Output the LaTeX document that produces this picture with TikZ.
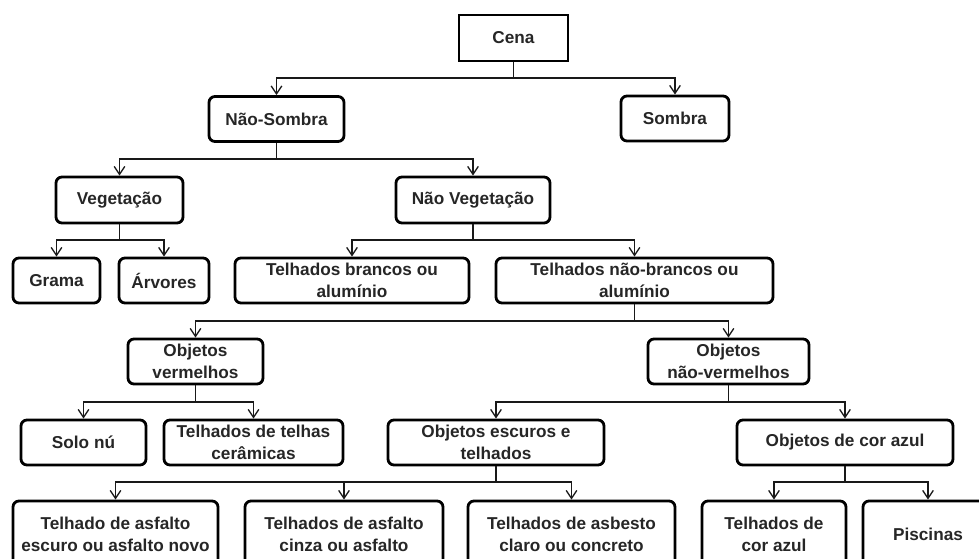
\documentclass[tikz,border=0pt]{standalone}
\usepackage{fontspec}
\setmainfont{Liberation Sans}
\usetikzlibrary{arrows.meta}
\begin{document}
\begin{tikzpicture}[x=0.75pt,y=-0.75pt,
  box/.style={draw=black, line width=2.1pt, rounded corners=4.5pt, align=center, inner sep=0pt,
    font=\fontsize{12.9}{16.5}\selectfont\bfseries, text=black!85, minimum height=33.75pt},
  conn/.style={line width=1.2pt, draw=black!90},
  arr/.style={conn, -{Straight Barb[length=6pt,width=8pt,line width=1pt]}}
]
\useasboundingbox (0,0) rectangle (979,558);
\clip (0,0) rectangle (979,558);
\fill[white] (0,0) rectangle (979,558);

% level 0
\node[box, rounded corners=0pt, minimum width=81.75pt, minimum height=34.5pt] (cena) at (513.5,38) {Cena};
% level 1
\node[box, minimum width=101.25pt] (nsombra) at (276.5,119) {Não-Sombra};
\node[box, minimum width=81pt] (sombra) at (675,118.5) {Sombra};
% level 2
\node[box, minimum width=95.25pt, minimum height=34.5pt] (veg) at (119.5,200) {Vegetação};
\node[box, minimum width=115.5pt, minimum height=34.5pt] (nveg) at (473,200) {Não Vegetação};
% level 3
\node[box, minimum width=65.25pt] (grama) at (56.5,280.5) {Grama};
\node[box, minimum width=67.5pt] (arv) at (164,280.5) {Árvores};
\node[box, minimum width=175.5pt] (tbranco) at (352,280.5) {Telhados brancos ou\\alumínio};
\node[box, minimum width=207.75pt] (tnbranco) at (634.5,280.5) {Telhados não-brancos ou\\alumínio};
% level 4
\node[box, minimum width=101.25pt] (overm) at (195.5,361.5) {Objetos\\vermelhos};
\node[box, minimum width=120.75pt] (onverm) at (728.5,361.5) {Objetos\\não-vermelhos};
% level 5
\node[box, minimum width=93.75pt] (solo) at (83.5,442.5) {Solo nú};
\node[box, minimum width=134.25pt] (tcer) at (253.5,442.5) {Telhados de telhas\\cerâmicas};
\node[box, minimum width=162pt] (oesc) at (496,442.5) {Objetos escuros e\\telhados};
\node[box, minimum width=162pt] (oazul) at (845,442.5) {Objetos de cor azul};
% level 6
\node[box, minimum width=153.75pt, minimum height=49.5pt] (b1) at (115.5,534) {Telhado de asfalto\\escuro ou asfalto novo};
\node[box, minimum width=148.5pt, minimum height=49.5pt] (b2) at (344,534) {Telhados de asfalto\\cinza ou asfalto};
\node[box, minimum width=155.25pt, minimum height=49.5pt] (b3) at (571.5,534) {Telhados de asbesto\\claro ou concreto};
\node[box, minimum width=108pt, minimum height=49.5pt] (b4) at (774,534) {Telhados de\\cor azul};
\node[box, minimum width=97.5pt, minimum height=49.5pt] (b5) at (928,534) {Piscinas};

% junction coordinates
\coordinate (j0) at (513.5,78);
\coordinate (j1) at (276.5,159);
\coordinate (j2a) at (119.5,240);
\coordinate (j2b) at (473,240);
\coordinate (j3) at (634.5,321);
\coordinate (j4a) at (195.5,402);
\coordinate (j4b) at (728.5,402);
\coordinate (j5a) at (496,482);
\coordinate (j5b) at (845,482);

% connectors
\draw[conn] (cena.south) -- (j0);
\draw[arr] (j0) -| (nsombra.north);
\draw[arr] (j0) -| (sombra.north);

\draw[conn] (nsombra.south) -- (j1);
\draw[arr] (j1) -| (veg.north);
\draw[arr] (j1) -| (nveg.north);

\draw[conn] (veg.south) -- (j2a);
\draw[arr] (j2a) -| (grama.north);
\draw[arr] (j2a) -| (arv.north);

\draw[conn] (nveg.south) -- (j2b);
\draw[arr] (j2b) -| (tbranco.north);
\draw[arr] (j2b) -| (tnbranco.north);

\draw[conn] (tnbranco.south) -- (j3);
\draw[arr] (j3) -| (overm.north);
\draw[arr] (j3) -| (onverm.north);

\draw[conn] (overm.south) -- (j4a);
\draw[arr] (j4a) -| (solo.north);
\draw[arr] (j4a) -| (tcer.north);

\draw[conn] (onverm.south) -- (j4b);
\draw[arr] (j4b) -| (oesc.north);
\draw[arr] (j4b) -| (oazul.north);

\draw[conn] (oesc.south) -- (j5a);
\draw[arr] (j5a) -| (b1.north);
\draw[arr] (j5a) -| (b2.north);
\draw[arr] (j5a) -| (b3.north);

\draw[conn] (oazul.south) -- (j5b);
\draw[arr] (j5b) -| (b4.north);
\draw[arr] (j5b) -| (b5.north);
\end{tikzpicture}
\end{document}
